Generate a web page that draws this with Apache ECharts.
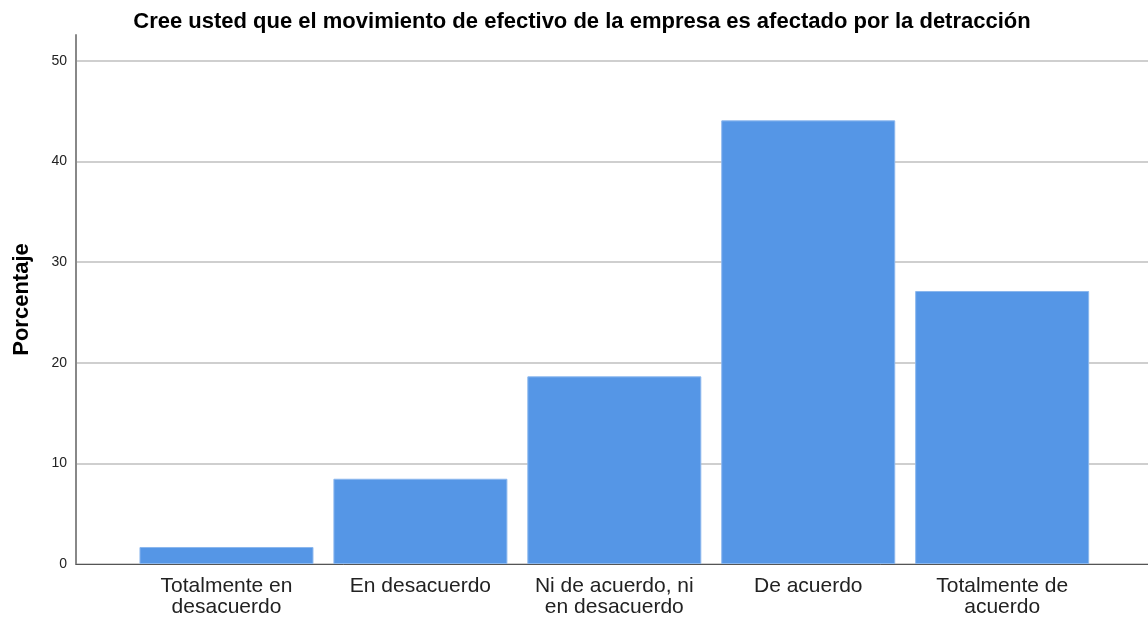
<!DOCTYPE html>
<html>
<head>
<meta charset="utf-8">
<script src="https://cdn.jsdelivr.net/npm/echarts@6/dist/echarts.min.js"></script>
<style>
  html, body { margin: 0; padding: 0; background: #fff; }
  #chart { width: 1148px; height: 621px; }
</style>
</head>
<body>
<div id="chart"></div>
<script>
// categories and percentages (n = 59)
const categories = ['Totalmente en\ndesacuerdo', 'En desacuerdo', 'Ni de acuerdo, ni\nen desacuerdo', 'De acuerdo', 'Totalmente de\nacuerdo'];
const porcentaje = [1.69, 8.47, 18.64, 44.07, 27.12];
const yTicks = [0, 10, 20, 30, 40, 50];

let chart = echarts.init(document.getElementById('chart'));
let option;

option = {
  animation: false,
  title: {
    text: 'Cree usted que el movimiento de efectivo de la empresa es afectado por la detracción',
    left: 577,
    textAlign: 'center',
    top: 6,
    textStyle: { fontFamily: 'Liberation Sans, Arial', fontSize: 22, fontWeight: 'bold', color: '#000' }
  },
  grid: { left: 76, right: 0, top: 35, bottom: 57 },
  xAxis: {
    type: 'value',
    min: -0.776,
    max: 4.752,
    splitLine: { show: false },
    axisTick: { show: false },
    axisLine: { show: true, lineStyle: { color: '#555', width: 1 } },
    axisLabel: {
      customValues: [0, 1, 2, 3, 4],
      formatter: v => categories[Math.round(v)],
      margin: 12,
      fontFamily: 'Liberation Sans, Arial',
      fontSize: 21,
      lineHeight: 21,
      color: '#222'
    }
  },
  yAxis: {
    type: 'value',
    min: 0,
    max: 52.55,
    interval: 10,
    name: 'Porcentaje',
    nameLocation: 'middle',
    nameGap: 43,
    nameTextStyle: { fontFamily: 'Liberation Sans, Arial', fontSize: 22, fontWeight: 'bold', color: '#000' },
    axisLine: { show: true, onZero: false, lineStyle: { color: '#888', width: 2 } },
    axisTick: { show: false },
    axisLabel: {
      customValues: yTicks,
      fontFamily: 'Liberation Sans, Arial',
      fontSize: 14,
      color: '#222',
      margin: 9
    },
    splitLine: { show: true, showMaxLine: false, lineStyle: { color: '#cfcfcf', width: 2 } }
  },
  series: [
    {
      type: 'bar',
      barWidth: 174,
      data: porcentaje.map((v, i) => [i, v]),
      itemStyle: { color: '#5596e6', borderColor: '#8cb8ee', borderWidth: 1 }
    }
  ]
};

option && chart.setOption(option);
</script>
</body>
</html>
